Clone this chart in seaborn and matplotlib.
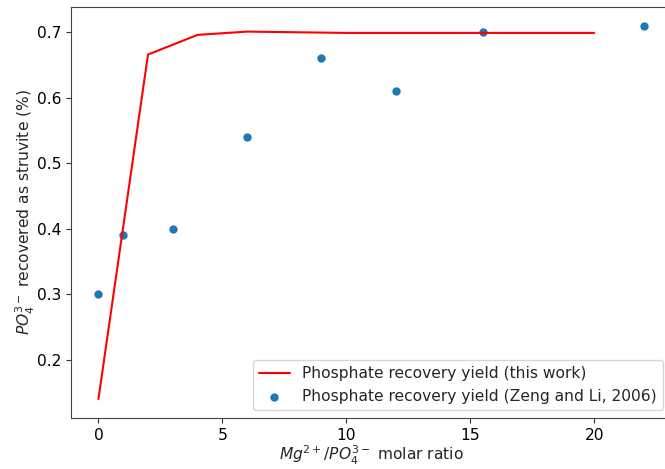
import pandas as pd
import matplotlib
matplotlib.use('Agg')
import matplotlib.pyplot as plt
import seaborn as sns

# This work (model line)
ratio_model = [0, 2, 4, 6, 8, 10, 12, 14, 16, 18, 20]
yield_model = [0.14, 0.666, 0.696, 0.701, 0.700, 0.699, 0.699, 0.699, 0.699, 0.699, 0.699]

# Zeng and Li, 2006 (points)
ratio_lit = [0, 1, 3, 6, 9, 12, 15.5, 22]
yield_lit = [0.30, 0.39, 0.40, 0.54, 0.66, 0.61, 0.70, 0.71]

df_model = pd.DataFrame({'ratio': ratio_model, 'yield': yield_model})
df_lit = pd.DataFrame({'ratio': ratio_lit, 'yield': yield_lit})

sns.set_style("ticks")
plt.rcParams['font.family'] = ['DejaVu Sans']
fs = 11.2

fig = plt.figure(figsize=(6.65, 4.69), dpi=100)
ax = fig.add_axes([0.107, 0.109, 0.902, 0.876])

sns.lineplot(data=df_model, x='ratio', y='yield', color='red', ax=ax,
             label='Phosphate recovery yield (this work)')
sns.scatterplot(data=df_lit, x='ratio', y='yield', color='#1f77b4', s=36,
                linewidth=0, ax=ax,
                label='Phosphate recovery yield (Zeng and Li, 2006)')

ax.set_xlim(-1.1, 23.1)
ax.set_ylim(0.1115, 0.7385)
ax.set_xticks([0, 5, 10, 15, 20])
ax.set_yticks([0.2, 0.3, 0.4, 0.5, 0.6, 0.7])
ax.set_xlabel(r'$Mg^{2+}/PO_4^{3-}$ molar ratio', fontsize=fs, labelpad=1)
ax.set_ylabel(r'$PO_4^{3-}$ recovered as struvite (%)', fontsize=fs, labelpad=0)
ax.tick_params(labelsize=fs, length=3.5, width=0.8, colors='#333333', labelcolor='black')
for s in ax.spines.values():
    s.set_color('#444444')
ax.legend(loc='lower right', fontsize=fs)

fig.savefig('out.png', dpi=100)
